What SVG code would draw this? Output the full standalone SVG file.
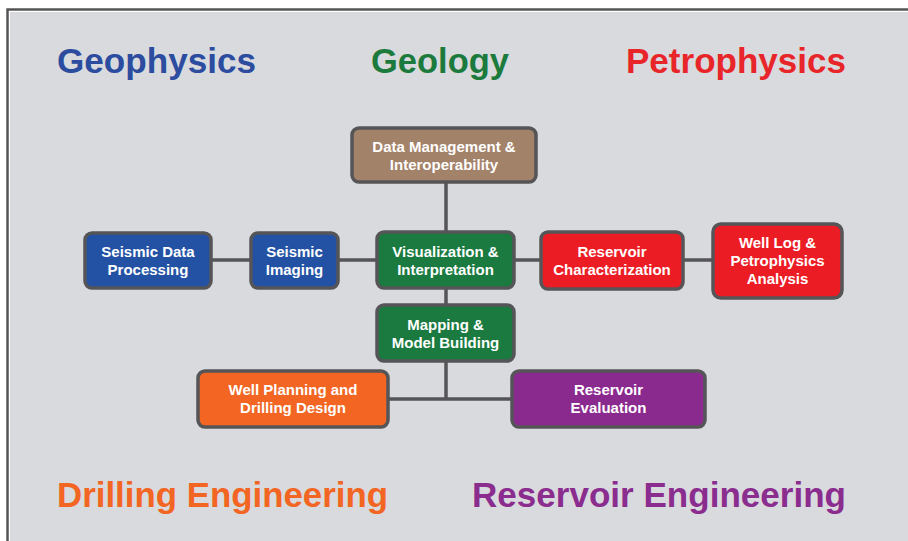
<svg xmlns="http://www.w3.org/2000/svg" width="908" height="541" viewBox="0 0 908 541">
<style>
.node rect{stroke:#555558;stroke-width:3.5}
.lbl{font-family:"Liberation Sans",Arial,sans-serif;font-weight:bold;font-size:15px;fill:#ffffff;text-anchor:middle}
.hd{font-family:"Liberation Sans",Arial,sans-serif;font-weight:bold;font-size:35px}
.conn line{stroke:#555558;stroke-width:3.5}
</style>
<rect x="0" y="0" width="908" height="541" fill="#ffffff"/>
<rect x="7.5" y="9.5" width="912" height="545" fill="#ffffff" stroke="#555555" stroke-width="2.5"/>
<rect x="10" y="12" width="898" height="529" fill="#d9dadd"/>

<g id="headings">
<text class="hd" x="57" y="73" fill="#2b4c9f" textLength="199" lengthAdjust="spacingAndGlyphs">Geophysics</text>
<text class="hd" x="371" y="73" fill="#1b7a3c" textLength="138" lengthAdjust="spacingAndGlyphs">Geology</text>
<text class="hd" x="626" y="73" fill="#e8262a" textLength="220" lengthAdjust="spacingAndGlyphs">Petrophysics</text>
<text class="hd" x="57" y="507" fill="#f26522" textLength="331" lengthAdjust="spacingAndGlyphs">Drilling Engineering</text>
<text class="hd" x="472" y="507" fill="#8b2c8f" textLength="374" lengthAdjust="spacingAndGlyphs">Reservoir Engineering</text>
</g>

<g id="connectors" class="conn">
<line x1="446" y1="182" x2="446" y2="399"/>
<line x1="211" y1="260" x2="713" y2="260"/>
<line x1="389" y1="399" x2="512" y2="399"/>
</g>

<g id="data-management" class="node">
<rect x="352" y="128" width="184" height="54" rx="7" fill="#a3826a"/>
<text class="lbl" x="444" y="152">Data Management &amp;</text>
<text class="lbl" x="444" y="170">Interoperability</text>
</g>
<g id="seismic-data-processing" class="node">
<rect x="85" y="233" width="126" height="55" rx="7" fill="#2352a5"/>
<text class="lbl" x="148" y="257">Seismic Data</text>
<text class="lbl" x="148" y="275">Processing</text>
</g>
<g id="seismic-imaging" class="node">
<rect x="251" y="233" width="87" height="55" rx="7" fill="#2352a5"/>
<text class="lbl" x="294.5" y="257">Seismic</text>
<text class="lbl" x="294.5" y="275">Imaging</text>
</g>
<g id="visualization" class="node">
<rect x="377" y="232" width="137" height="56" rx="7" fill="#1a7a40"/>
<text class="lbl" x="445.5" y="257">Visualization &amp;</text>
<text class="lbl" x="445.5" y="275">Interpretation</text>
</g>
<g id="reservoir-characterization" class="node">
<rect x="541" y="232" width="142" height="57" rx="7" fill="#ec1c24"/>
<text class="lbl" x="612" y="257">Reservoir</text>
<text class="lbl" x="612" y="275">Characterization</text>
</g>
<g id="well-log" class="node">
<rect x="713" y="224" width="129" height="74" rx="8" fill="#ec1c24"/>
<text class="lbl" x="777.5" y="248">Well Log &amp;</text>
<text class="lbl" x="777.5" y="266">Petrophysics</text>
<text class="lbl" x="777.5" y="284">Analysis</text>
</g>
<g id="mapping" class="node">
<rect x="377" y="305" width="137" height="56" rx="7" fill="#1a7a40"/>
<text class="lbl" x="445.5" y="330">Mapping &amp;</text>
<text class="lbl" x="445.5" y="348">Model Building</text>
</g>
<g id="well-planning" class="node">
<rect x="198" y="371" width="190" height="56" rx="7" fill="#f26522"/>
<text class="lbl" x="293" y="395">Well Planning and</text>
<text class="lbl" x="293" y="413">Drilling Design</text>
</g>
<g id="reservoir-evaluation" class="node">
<rect x="512" y="371" width="193" height="56" rx="7" fill="#8b2a8e"/>
<text class="lbl" x="608.5" y="395">Reservoir</text>
<text class="lbl" x="608.5" y="413">Evaluation</text>
</g>
</svg>
